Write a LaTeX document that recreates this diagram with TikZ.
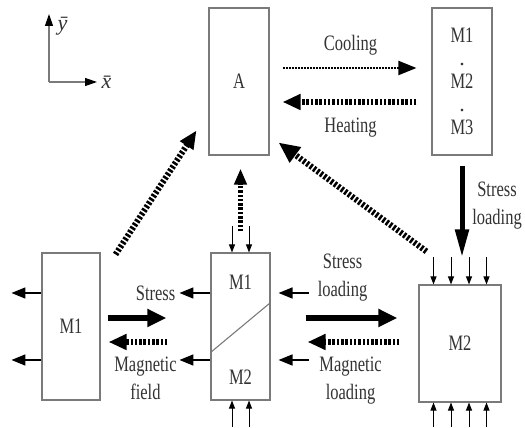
\documentclass[tikz,border=0pt]{standalone}
\usepackage{fontspec}
\setmainfont{Liberation Serif}
\usepackage{graphicx}
\usepackage{tikz}
\usetikzlibrary{arrows.meta,positioning,calc}
\definecolor{edge}{HTML}{7A7A7A}
\definecolor{ink}{HTML}{333333}
\newcommand{\nar}[1]{\scalebox{0.75}[1]{#1}}

\begin{document}
\begin{tikzpicture}[x=1pt,y=1pt,
  box/.style={draw=edge,line width=1.1pt,minimum width=60pt,minimum height=147pt,
              inner sep=0pt,font=\fontsize{22}{23}\selectfont,text=ink,align=center},
  lbl/.style={font=\fontsize{22}{28}\selectfont,text=ink,align=center},
  force/.style={-{Triangle[length=8pt,width=6pt]},line width=0.9pt},
  pull/.style={-{Triangle[length=14pt,width=11pt]},line width=1.6pt},
  push/.style={-{Triangle[length=19pt,width=17pt]},line width=6pt},
  pushd/.style={-{Triangle[length=18pt,width=15pt]},line width=6pt,
                dash pattern=on 2.5pt off 1.8pt},
  cool/.style={-{Triangle[length=18pt,width=14pt]},line width=2pt,
               dash pattern=on 2pt off 1pt},
  axis/.style={draw=edge,line width=1.2pt,-{Triangle[length=12pt,width=8pt,color=black]}}
]
\useasboundingbox (0,0) rectangle (525,428);

\node[box] (A) at (239,346.5) {\nar{A}};
\node[box] (mart) at (462,346.5) {\nar{M1}\\.\\\nar{M2}\\.\\\nar{M3}};
\node[box,minimum width=58pt] (m1) at (71,101.5) {\nar{M1}};
\node[box,minimum width=59pt] (mix) at (240.5,101.5) {};
\node[box,minimum width=82pt,minimum height=117pt] (m2) at (460,84.5) {\nar{M2}};

\draw[draw=edge,line width=1.1pt] ([yshift=48]mix.south west) -- ([yshift=98]mix.south east);
\node[lbl] at ([yshift=-30]mix.north) {\nar{M1}};
\node[lbl] at ([yshift=23]mix.south) {\nar{M2}};

\coordinate (o) at (49,346);
\coordinate (ytip) at (49,414);
\coordinate (xtip) at (97,346);
\draw[axis] (o) -- (ytip) node[lbl,inner sep=1pt,right=7pt,yshift=-12]{\textit{ȳ}};
\draw[axis] (o) -- (xtip) node[lbl,inner sep=1pt,right=3pt]{\textit{x̄}};

\draw[cool,shorten <=13pt,shorten >=15pt] ([yshift=13.5]A.east) -- ([yshift=13.5]A.east -| mart.west)
  node[lbl,midway,yshift=23]{\nar{Cooling}};
\draw[pushd,shorten <=15pt,shorten >=13pt] ([yshift=-20.5]A.east -| mart.west) -- ([yshift=-20.5]A.east)
  node[lbl,midway,yshift=-26]{\nar{Heating}};

\draw[-{Triangle[length=28pt,width=13pt]},line width=5pt,shorten <=10pt,shorten >=27pt]
  (mart.south) -- (mart.south |- m2.north) node[lbl,midway,xshift=35,yshift=14]{\nar{Stress}\\\nar{loading}};

\draw[pushd,-{Triangle[length=21pt,width=18pt]},shorten >=0pt]
  ([shift={(8,33)}]m2.north west) -- ([shift={(9,13)}]A.south east);
\draw[pushd] ([shift={(15,-2)}]m1.north east) -- ([shift={(-12,25)}]A.south west);
\draw[pushd,line width=5pt,-{Triangle[length=16pt,width=12pt]},shorten <=21pt,shorten >=13pt]
  (mix.north) -- (mix.north |- A.south);

\draw[push,shorten <=7pt,shorten >=44pt] ([yshift=8.5]m1.east) -- ([yshift=8.5]m1.east -| mix.west);
\draw[pushd,shorten <=43pt,shorten >=8pt] ([yshift=-15.5]mix.west) -- ([yshift=-15.5]mix.west -| m1.east);
\draw[push,shorten <=35pt,shorten >=21pt] ([yshift=8.5]mix.east) -- ([yshift=8.5]mix.east -| m2.west);
\draw[pushd,shorten <=19pt,shorten >=37pt] ([yshift=-15.5]mix.east -| m2.west) -- ([yshift=-15.5]mix.east);

\foreach \dy in {33.5,-33.5} {
  \draw[pull] ([yshift=\dy]m1.west) -- ++(-30,0);
}
\draw[pull] ([yshift=33.5]mix.west) -- ++(-31,0) node[lbl,left=0pt]{\nar{Stress}};
\draw[pull] ([yshift=-33.5]mix.west) -- ++(-31,0) node[lbl,xshift=-34,yshift=-18.5]{\nar{Magnetic}\\\nar{field}};
\draw[pull] ([yshift=33.5]mix.east) ++(38,0) node[lbl,xshift=34,yshift=15.5]{\nar{Stress}\\\nar{loading}} -- ++(-30,0);
\draw[pull] ([yshift=-33.5]mix.east) ++(38,0) node[lbl,xshift=42,yshift=-21]{\nar{Magnetic}\\\nar{loading}} -- ++(-30,0);

\foreach \dx in {-8.5,8.5} {
  \draw[force] ([xshift=\dx]mix.north) ++(0,26) -- ([xshift=\dx]mix.north);
  \draw[force] ([xshift=\dx]mix.south) ++(0,-26) -- ([xshift=\dx]mix.south);
}
\foreach \dx in {-26.5,-9,9,26.5} {
  \draw[force] ([xshift=\dx]m2.north) ++(0,27) -- ([xshift=\dx]m2.north);
  \draw[force] ([xshift=\dx]m2.south) ++(0,-24) -- ([xshift=\dx]m2.south);
}
\end{tikzpicture}
\end{document}
